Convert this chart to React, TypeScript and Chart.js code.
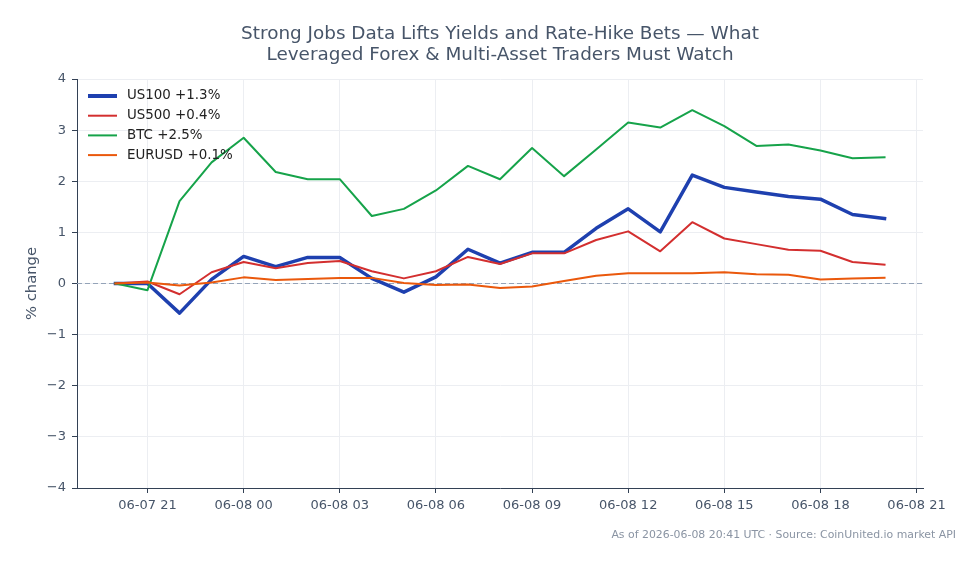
import { useEffect, useRef } from 'react';
import { Chart, registerables } from 'chart.js';

Chart.register(...registerables);

const hours = [20, 21, 22, 23, 24, 25, 26, 27, 28, 29, 30, 31, 32, 33, 34, 35, 36, 37, 38, 39, 40, 41, 42, 43, 44];
const us100 = [0, 0, -0.58, 0.08, 0.53, 0.33, 0.51, 0.51, 0.1, -0.17, 0.13, 0.67, 0.4, 0.61, 0.61, 1.08, 1.46, 1.01, 2.12, 1.88, 1.79, 1.7, 1.65, 1.35, 1.27];
const us500 = [0, 0.04, -0.21, 0.22, 0.42, 0.3, 0.4, 0.44, 0.24, 0.1, 0.24, 0.52, 0.38, 0.59, 0.59, 0.85, 1.02, 0.63, 1.2, 0.88, 0.77, 0.66, 0.64, 0.42, 0.37];
const btc = [0, -0.13, 1.61, 2.37, 2.85, 2.18, 2.04, 2.04, 1.32, 1.46, 1.82, 2.3, 2.04, 2.65, 2.1, 2.62, 3.15, 3.05, 3.39, 3.08, 2.69, 2.72, 2.6, 2.45, 2.47];
const eurusd = [0, 0.02, -0.04, 0.02, 0.12, 0.07, 0.09, 0.11, 0.11, 0.01, -0.03, -0.02, -0.09, -0.06, 0.05, 0.15, 0.2, 0.2, 0.2, 0.22, 0.18, 0.17, 0.08, 0.1, 0.11];

const seriesNames = ['US100 +1.3%', 'US500 +0.4%', 'BTC +2.5%', 'EURUSD +0.1%'];
const seriesColors = ['#1e40af', '#d32f2f', '#16a34a', '#ea580c'];
const seriesWidths = [3.5, 2, 2, 2];

const xTickValues = [21, 24, 27, 30, 33, 36, 39, 42, 45];
const xTickLabels = ['06-07 21', '06-08 00', '06-08 03', '06-08 06', '06-08 09', '06-08 12', '06-08 15', '06-08 18', '06-08 21'];

const titleLines = ['Strong Jobs Data Lifts Yields and Rate-Hike Bets \u2014 What', 'Leveraged Forex & Multi-Asset Traders Must Watch'];
const yAxisLabel = '% change';
const footerText = 'As of 2026-06-08 20:41 UTC \u00b7 Source: CoinUnited.io market API';

const FONT = 'DejaVu Sans';

export default function App() {
  const ref = useRef<HTMLCanvasElement | null>(null);

  useEffect(() => {
    document.body.style.margin = '0';
    const canvas = ref.current;
    if (!canvas) return;
    const allSeries = [us100, us500, btc, eurusd];

    const decor = {
      id: 'decor',
      beforeDatasetsDraw(chart: any) {
        const { ctx, chartArea, scales } = chart;
        const y0 = scales.y.getPixelForValue(0);
        ctx.save();
        ctx.strokeStyle = '#94a3b8';
        ctx.lineWidth = 1;
        ctx.setLineDash([5, 3]);
        ctx.beginPath();
        ctx.moveTo(chartArea.left, y0);
        ctx.lineTo(chartArea.right, y0);
        ctx.stroke();
        ctx.restore();
      },
      afterDraw(chart: any) {
        const { ctx, chartArea } = chart;
        ctx.save();
        // title
        ctx.fillStyle = '#475569';
        ctx.font = `18.4px "${FONT}"`;
        ctx.textAlign = 'center';
        ctx.textBaseline = 'alphabetic';
        const cx = (chartArea.left + chartArea.right) / 2;
        ctx.fillText(titleLines[0], cx, 39);
        ctx.fillText(titleLines[1], cx, 60);
        // y label
        ctx.save();
        ctx.translate(32, (chartArea.top + chartArea.bottom) / 2);
        ctx.rotate(-Math.PI / 2);
        ctx.textBaseline = 'middle';
        ctx.font = `14.8px "${FONT}"`;
        ctx.fillText(yAxisLabel, 0, 0);
        ctx.restore();
        // footer
        ctx.fillStyle = '#8a94a3';
        ctx.font = `10.9px "${FONT}"`;
        ctx.textAlign = 'right';
        ctx.textBaseline = 'middle';
        ctx.fillText(footerText, 956, 535);
        // legend
        ctx.textAlign = 'left';
        ctx.font = `13.4px "${FONT}"`;
        for (let i = 0; i < seriesNames.length; i++) {
          const yy = 96 + i * 19.7;
          ctx.strokeStyle = seriesColors[i];
          ctx.lineWidth = i === 0 ? 4 : 2;
          ctx.beginPath();
          ctx.moveTo(88, yy);
          ctx.lineTo(117, yy);
          ctx.stroke();
          ctx.fillStyle = '#222222';
          ctx.fillText(seriesNames[i], 127, yy);
        }
        ctx.restore();
      },
    };

    const chart = new Chart(canvas, {
      type: 'line',
      data: {
        datasets: allSeries.map((vals, i) => ({
          label: seriesNames[i],
          data: vals.map((v, j) => ({ x: hours[j], y: v })),
          borderColor: seriesColors[i],
          backgroundColor: seriesColors[i],
          borderWidth: seriesWidths[i],
          pointRadius: 0,
          tension: 0,
          borderJoinStyle: 'round' as const,
          borderCapStyle: 'square' as const,
          order: 3 - i,
        })),
      },
      options: {
        responsive: false,
        animation: false,
        layout: { padding: { top: 79, right: 56, left: 0, bottom: 0 } },
        plugins: {
          legend: { display: false },
          title: { display: false },
          tooltip: { enabled: false },
        },
        scales: {
          x: {
            type: 'linear',
            min: 18.8,
            max: 45.2,
            afterBuildTicks: (s: any) => {
              s.ticks = xTickValues.map((v) => ({ value: v }));
            },
            afterFit: (s: any) => {
              s.height = 76;
            },
            ticks: {
              autoSkip: false,
              maxRotation: 0,
              color: '#475569',
              padding: 5,
              font: { family: FONT, size: 13 },
              callback: (v: any) => {
                const idx = xTickValues.indexOf(Number(v));
                return idx >= 0 ? xTickLabels[idx] : '';
              },
            },
            grid: { color: '#eceef2', tickColor: '#334155', tickLength: 5 },
            border: { display: true, color: '#334155', width: 1 },
          },
          y: {
            min: -4,
            max: 4,
            afterFit: (s: any) => {
              s.width = 77;
            },
            ticks: {
              stepSize: 1,
              color: '#475569',
              padding: 6,
              font: { family: FONT, size: 13 },
              callback: (v: any) => (Number(v) < 0 ? '\u2212' + Math.abs(Number(v)) : String(v)),
            },
            grid: { color: '#eceef2', tickColor: '#334155', tickLength: 5 },
            border: { display: true, color: '#334155', width: 1 },
          },
        },
      },
      plugins: [decor],
    });
    return () => chart.destroy();
  }, []);

  return (
    <div style={{ position: 'absolute', left: 0, top: 0, width: 979, height: 564, background: '#ffffff' }}>
      <canvas ref={ref} width={979} height={564} />
    </div>
  );
}
